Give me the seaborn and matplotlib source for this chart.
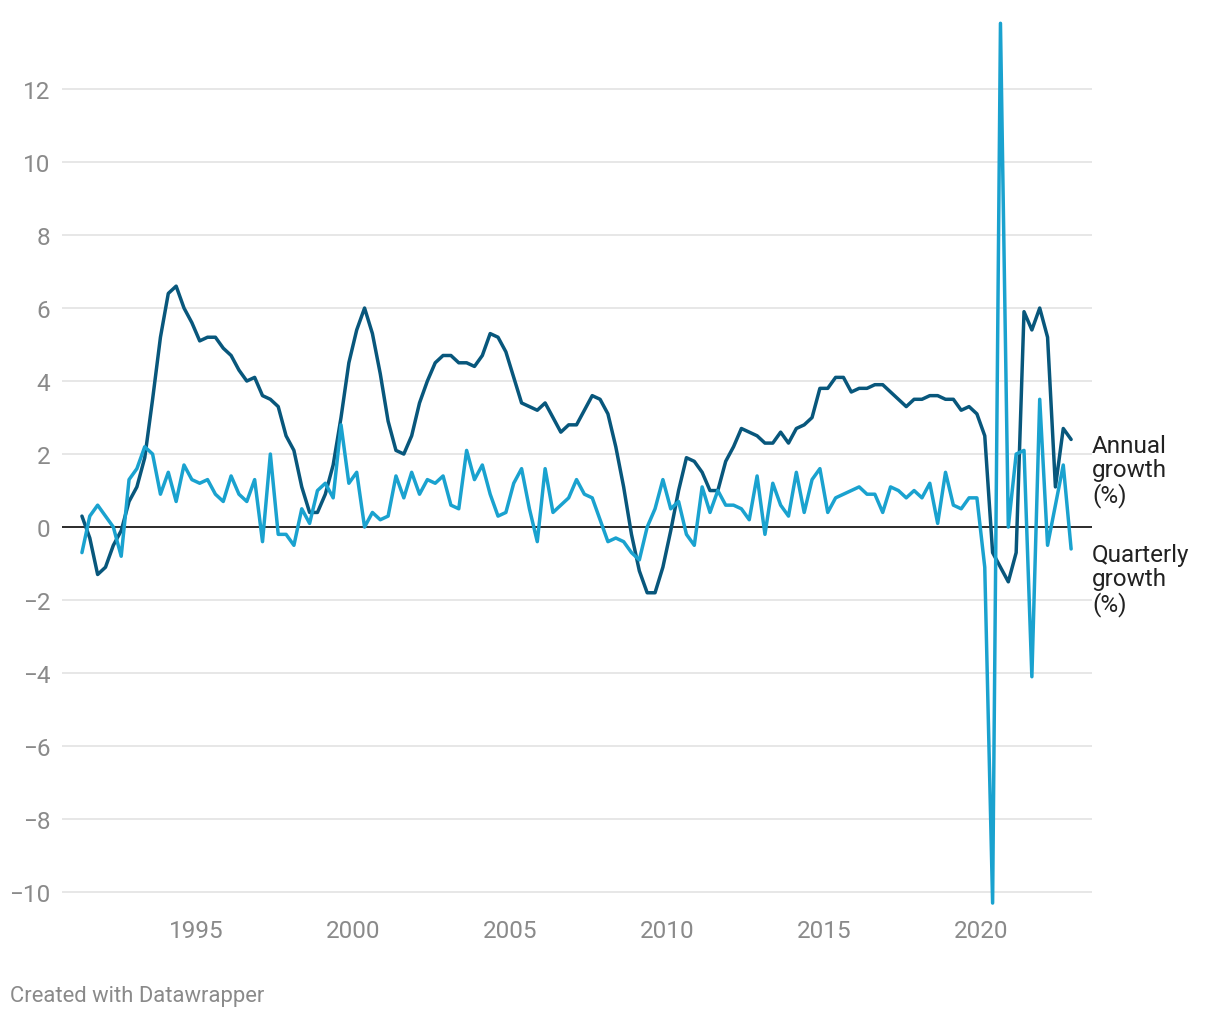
import numpy as np
import pandas as pd
import matplotlib
matplotlib.use("Agg")
import matplotlib.pyplot as plt
import seaborn as sns

# ---- data (1991 Q2 .. 2022 Q4) ----
periods = pd.period_range("1991Q2", "2022Q4", freq="Q")

annual_growth = [
    0.3, -0.3, -1.3, -1.1, -0.5, -0.1, 0.7, 1.1, 1.9, 3.5,
    5.2, 6.4, 6.6, 6.0, 5.6, 5.1, 5.2, 5.2, 4.9, 4.7,
    4.3, 4.0, 4.1, 3.6, 3.5, 3.3, 2.5, 2.1, 1.1, 0.4,
    0.4, 0.9, 1.7, 3.0, 4.5, 5.4, 6.0, 5.3, 4.2, 2.9,
    2.1, 2.0, 2.5, 3.4, 4.0, 4.5, 4.7, 4.7, 4.5, 4.5,
    4.4, 4.7, 5.3, 5.2, 4.8, 4.1, 3.4, 3.3, 3.2, 3.4,
    3.0, 2.6, 2.8, 2.8, 3.2, 3.6, 3.5, 3.1, 2.2, 1.1,
    -0.2, -1.2, -1.8, -1.8, -1.1, -0.1, 1.0, 1.9, 1.8, 1.5,
    1.0, 1.0, 1.8, 2.2, 2.7, 2.6, 2.5, 2.3, 2.3, 2.6,
    2.3, 2.7, 2.8, 3.0, 3.8, 3.8, 4.1, 4.1, 3.7, 3.8,
    3.8, 3.9, 3.9, 3.7, 3.5, 3.3, 3.5, 3.5, 3.6, 3.6,
    3.5, 3.5, 3.2, 3.3, 3.1, 2.5, -0.7, -1.1, -1.5, -0.7,
    5.9, 5.4, 6.0, 5.2, 1.1, 2.7, 2.4,
]

quarterly_growth = [
    -0.7, 0.3, 0.6, 0.3, 0.0, -0.8, 1.3, 1.6, 2.2, 2.0,
    0.9, 1.5, 0.7, 1.7, 1.3, 1.2, 1.3, 0.9, 0.7, 1.4,
    0.9, 0.7, 1.3, -0.4, 2.0, -0.2, -0.2, -0.5, 0.5, 0.1,
    1.0, 1.2, 0.8, 2.8, 1.2, 1.5, 0.0, 0.4, 0.2, 0.3,
    1.4, 0.8, 1.5, 0.9, 1.3, 1.2, 1.4, 0.6, 0.5, 2.1,
    1.3, 1.7, 0.9, 0.3, 0.4, 1.2, 1.6, 0.5, -0.4, 1.6,
    0.4, 0.6, 0.8, 1.3, 0.9, 0.8, 0.2, -0.4, -0.3, -0.4,
    -0.7, -0.9, 0.0, 0.5, 1.3, 0.5, 0.7, -0.2, -0.5, 1.1,
    0.4, 1.0, 0.6, 0.6, 0.5, 0.2, 1.4, -0.2, 1.2, 0.6,
    0.3, 1.5, 0.4, 1.3, 1.6, 0.4, 0.8, 0.9, 1.0, 1.1,
    0.9, 0.9, 0.4, 1.1, 1.0, 0.8, 1.0, 0.8, 1.2, 0.1,
    1.5, 0.6, 0.5, 0.8, 0.8, -1.1, -10.3, 13.8, 0.0, 2.0,
    2.1, -4.1, 3.5, -0.5, 0.6, 1.7, -0.6,
]

series_names = ["Annual\ngrowth\n(%)", "Quarterly\ngrowth\n(%)"]
series_colors = ["#08577c", "#1aa2cf"]
y_ticks = [-10, -8, -6, -4, -2, 0, 2, 4, 6, 8, 10, 12]
x_ticks = [1995, 2000, 2005, 2010, 2015, 2020]

# time position: middle of each quarter
t = np.array([p.year + (p.quarter - 0.5) / 4 for p in periods])

df = pd.DataFrame({
    "t": np.concatenate([t, t]),
    "value": annual_growth + quarterly_growth,
    "series": [series_names[0]] * len(t) + [series_names[1]] * len(t),
})

sns.set_theme(style="white")
plt.rcParams["font.family"] = ["Roboto", "DejaVu Sans"]

W, H = 1220, 1020
fig = plt.figure(figsize=(W / 100, H / 100), dpi=100)
ax_left, ax_right = 62, 1092
ax_top, ax_bot = 17, 915
ax = fig.add_axes([ax_left / W, 1 - ax_bot / H, (ax_right - ax_left) / W, (ax_bot - ax_top) / H])

sns.lineplot(data=df, x="t", y="value", hue="series", hue_order=series_names,
             palette=series_colors, linewidth=2.5, legend=False, ax=ax,
             estimator=None, sort=False)

ax.set_xlim(1990.74, 2023.54)
ax.set_ylim(-10.6, 14.0)

for v in y_ticks:
    if v == 0:
        continue
    ax.axhline(v, color="#e3e3e3", linewidth=1.2, zorder=0)
ax.axhline(0, color="#1a1a1a", linewidth=1.3, zorder=1.5)

ax.set_yticks(y_ticks)
ax.set_yticklabels([f"{v}".replace("-", "\u2212") for v in y_ticks])
ax.set_xticks(x_ticks)
ax.set_xticklabels([str(x) for x in x_ticks])
ax.tick_params(axis="y", length=0, pad=8.5, labelsize=17.5, labelcolor="#8a8a8a")
ax.tick_params(axis="x", length=0, pad=3.5, labelsize=17.5, labelcolor="#8a8a8a")
for s in ax.spines.values():
    s.set_visible(False)
ax.set_xlabel("")
ax.set_ylabel("")
ax.grid(False)

# direct labels
ax.text(1.0, 2.55, series_names[0], transform=ax.get_yaxis_transform(),
        ha="left", va="top", fontsize=17.5, color="#222222", linespacing=1.05,
        clip_on=False)
ax.text(1.0, -0.45, series_names[1], transform=ax.get_yaxis_transform(),
        ha="left", va="top", fontsize=17.5, color="#222222", linespacing=1.05,
        clip_on=False)

fig.text(10 / W, 1 - 997 / H, "Created with Datawrapper", ha="left", va="center",
         fontsize=15.8, color="#8a8a8a")

fig.savefig("out.png", dpi=100)
